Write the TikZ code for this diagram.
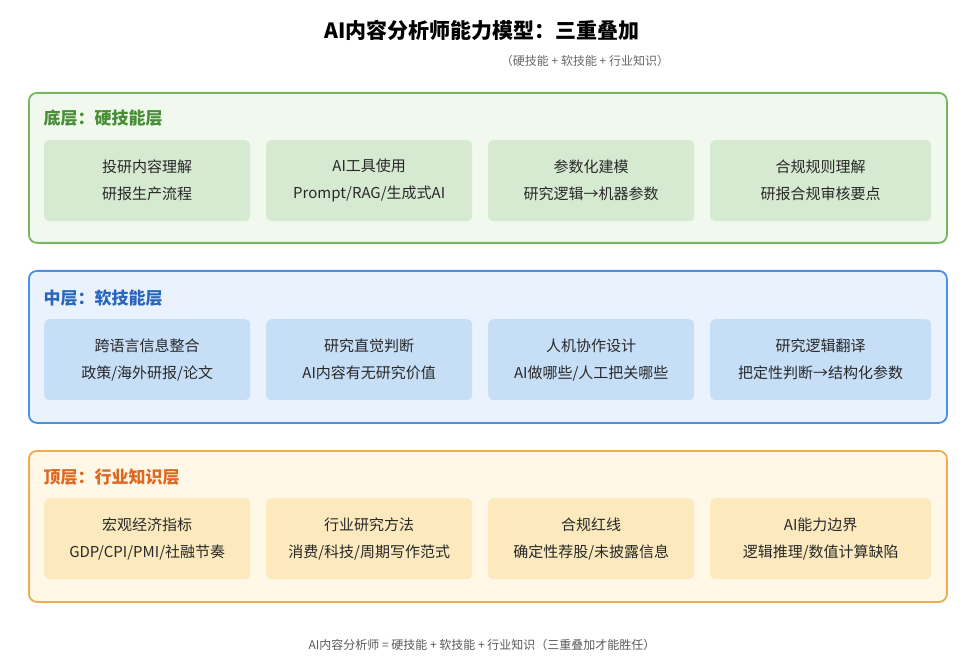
\documentclass[tikz,border=0pt]{standalone}
\usepackage{fontspec}
\setmainfont{Noto Sans CJK SC}
\usetikzlibrary{positioning}
\definecolor{hardborder}{RGB}{118,184,98}
\definecolor{hardfill}{RGB}{241,248,238}
\definecolor{hardcell}{RGB}{214,233,209}
\definecolor{hardtext}{RGB}{72,142,52}
\definecolor{softborder}{RGB}{74,144,226}
\definecolor{softfill}{RGB}{234,243,253}
\definecolor{softcell}{RGB}{199,222,247}
\definecolor{softtext}{RGB}{42,102,190}
\definecolor{domborder}{RGB}{240,172,72}
\definecolor{domfill}{RGB}{255,248,231}
\definecolor{domcell}{RGB}{252,234,190}
\definecolor{domtext}{RGB}{222,104,34}
\definecolor{bodytext}{RGB}{40,40,40}

\begin{document}
\begin{tikzpicture}[x=1pt, y=-1pt,
    layer/.style={draw, line width=1.8pt, rounded corners=8pt, minimum width=918pt, minimum height=150pt, anchor=north west},
    cell/.style={rounded corners=5pt, minimum width=206pt, minimum height=81pt, anchor=north west, align=center, text=bodytext, font=\fontsize{15}{27}\selectfont},
    tag/.style={anchor=west, font=\fontsize{17}{19}\selectfont\bfseries}
]
    \useasboundingbox (0,0) rectangle (964,660);

    % Title
    \node[font=\fontsize{21}{23}\selectfont\bfseries] (title) at (482,30) {AI内容分析师能力模型：三重叠加};
    \node[font=\fontsize{12}{14}\selectfont, text=black!60] (subtitle) at (585,61) {（硬技能 + 软技能 + 行业知识）};

    % Bottom layer: hard skills
    \node[layer, draw=hardborder, fill=hardfill] (hard) at (28,92) {};
    \node[tag, text=hardtext] (hardtag) at (40,118) {底层：硬技能层};
    \node[cell, fill=hardcell] (h1) at (44,140) {投研内容理解\\研报生产流程};
    \node[cell, fill=hardcell] (h2) at (266,140) {AI工具使用\\Prompt/RAG/生成式AI};
    \node[cell, fill=hardcell] (h3) at (488,140) {参数化建模\\研究逻辑→机器参数};
    \node[cell, fill=hardcell, minimum width=221pt] (h4) at (710,140) {合规规则理解\\研报合规审核要点};

    % Middle layer: soft skills
    \node[layer, draw=softborder, fill=softfill, minimum height=152pt] (soft) at (28,270) {};
    \node[tag, text=softtext] (softtag) at (40,298) {中层：软技能层};
    \node[cell, fill=softcell] (s1) at (44,319) {跨语言信息整合\\政策/海外研报/论文};
    \node[cell, fill=softcell] (s2) at (266,319) {研究直觉判断\\AI内容有无研究价值};
    \node[cell, fill=softcell] (s3) at (488,319) {人机协作设计\\AI做哪些/人工把关哪些};
    \node[cell, fill=softcell, minimum width=221pt] (s4) at (710,319) {研究逻辑翻译\\把定性判断→结构化参数};

    % Top layer: domain knowledge
    \node[layer, draw=domborder, fill=domfill, minimum height=151pt] (dom) at (28,450) {};
    \node[tag, text=domtext] (domtag) at (40,477) {顶层：行业知识层};
    \node[cell, fill=domcell] (d1) at (44,498) {宏观经济指标\\GDP/CPI/PMI/社融节奏};
    \node[cell, fill=domcell] (d2) at (266,498) {行业研究方法\\消费/科技/周期写作范式};
    \node[cell, fill=domcell] (d3) at (488,498) {合规红线\\确定性荐股/未披露信息};
    \node[cell, fill=domcell, minimum width=221pt] (d4) at (710,498) {AI能力边界\\逻辑推理/数值计算缺陷};

    % Footer
    \node[font=\fontsize{12}{14}\selectfont, text=black!65] (footer) at (482,645) {AI内容分析师 = 硬技能 + 软技能 + 行业知识（三重叠加才能胜任）};
\end{tikzpicture}
\end{document}
